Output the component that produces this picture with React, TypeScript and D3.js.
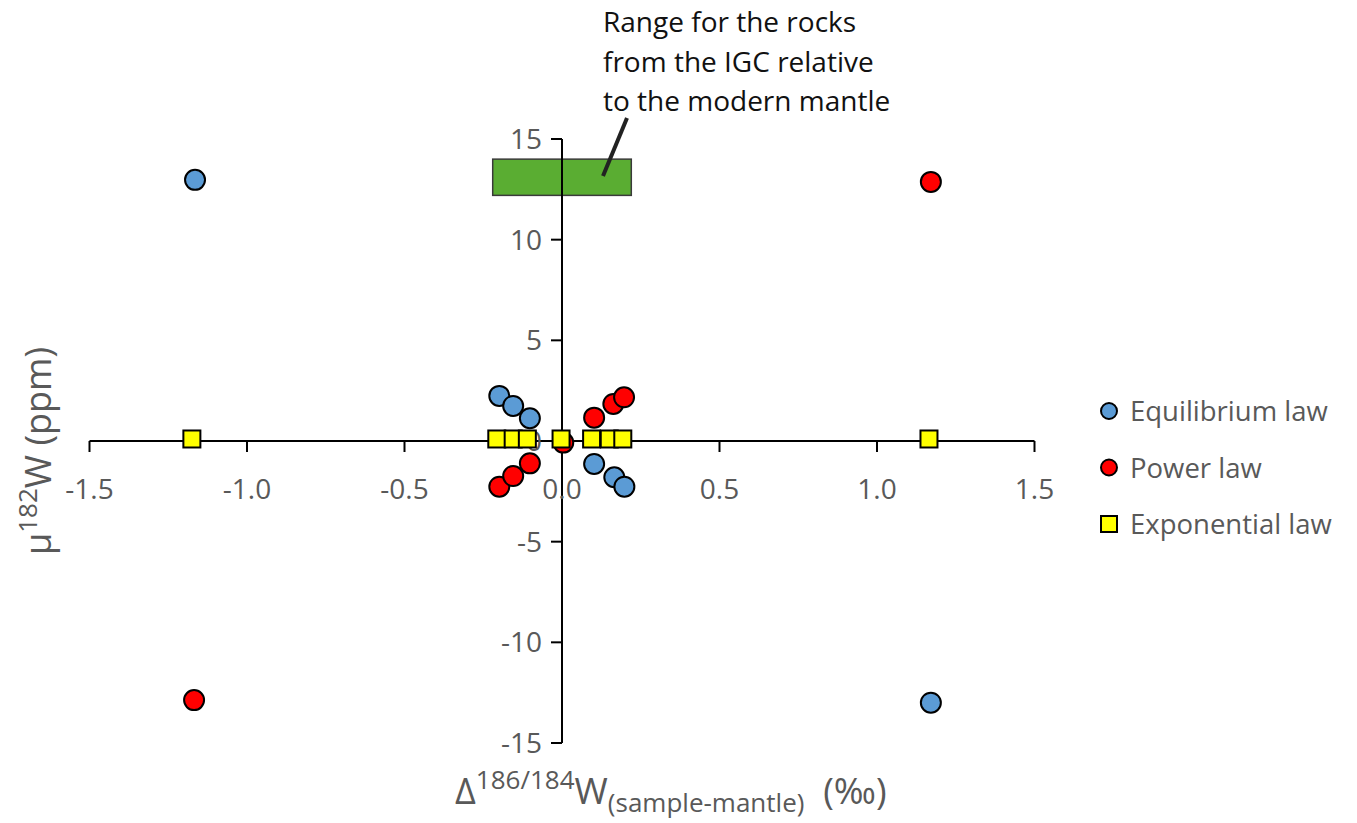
import React from "react";
import * as d3 from "d3";

const xTicks = [-1.5, -1.0, -0.5, 0.0, 0.5, 1.0, 1.5];
const yTicks = [-15, -10, -5, 5, 10, 15];
const yZeroLabel = "0";

const equilibriumX = [-1.165, -0.199, -0.155, -0.102, 0.102, 0.166, 0.198, 1.171];
const equilibriumY = [12.97, 2.24, 1.74, 1.13, -1.14, -1.8, -2.27, -13.0];
const powerX = [-1.168, -0.199, -0.155, -0.102, 0.004, 0.102, 0.163, 0.197, 1.171];
const powerY = [-12.87, -2.27, -1.74, -1.11, -0.08, 1.16, 1.84, 2.17, 12.87];
const exponentialX = [-1.175, -0.207, -0.155, -0.11, -0.003, 0.094, 0.15, 0.193, 1.165];
const exponentialY = [0.1, 0.1, 0.1, 0.1, 0.1, 0.1, 0.1, 0.1, 0.1];

const rangeX = [-0.22, 0.22];
const rangeY = [12.2, 14.0];

const annotationLines = ["Range for the rocks", "from the IGC relative", "to the modern mantle"];
const legendNames = ["Equilibrium law", "Power law", "Exponential law"];

const W = 1357;
const H = 823;
const FONT = "'Open Sans', sans-serif";
const GRAY = "#595959";

export default function App() {
  const x = d3.scaleLinear().domain([-1.5, 1.5]).range([89.5, 1034.5]);
  const y = d3.scaleLinear().domain([-15, 15]).range([743, 139]);
  const x0 = x(0);
  const y0 = y(0);
  const r = 10;
  const sq = 17;

  const blue = equilibriumX.map((v, i) => ({ x: v, y: equilibriumY[i] }));
  const red = powerX.map((v, i) => ({ x: v, y: powerY[i] }));
  const yellow = exponentialX.map((v, i) => ({ x: v, y: exponentialY[i] }));

  return (
    <svg width={W} height={H} style={{ position: "absolute", left: 0, top: 0 }} fontFamily={FONT}>
      <rect width={W} height={H} fill="#fff" />
      {/* range box */}
      <rect
        x={x(rangeX[0])}
        y={y(rangeY[1])}
        width={x(rangeX[1]) - x(rangeX[0])}
        height={y(rangeY[0]) - y(rangeY[1])}
        fill="#5aad32"
        stroke="#3a3a3a"
        strokeWidth={1.5}
      />
      {/* axes */}
      <line x1={x(-1.5)} x2={x(1.5)} y1={y0} y2={y0} stroke="#000" strokeWidth={2} />
      <line x1={x0} x2={x0} y1={y(15)} y2={y(-15)} stroke="#000" strokeWidth={2} />
      {[...yTicks, 0].map((t) => (
        <line key={"yt" + t} x1={x0 - 11} x2={x0} y1={y(t)} y2={y(t)} stroke="#000" strokeWidth={2} />
      ))}
      {xTicks.map((t) => (
        <line key={"xt" + t} x1={x(t)} x2={x(t)} y1={y0} y2={y0 + 11} stroke="#000" strokeWidth={2} />
      ))}
      {/* tick labels */}
      {xTicks.map((t) => (
        <text key={"xl" + t} x={x(t)} y={y0 + 58} textAnchor="middle" fontSize={28} fill={GRAY}>
          {t.toFixed(1)}
        </text>
      ))}
      {yTicks.map((t) => (
        <text key={"yl" + t} x={x0 - 20} y={y(t) + 10} textAnchor="end" fontSize={28} fill={GRAY}>
          {String(t)}
        </text>
      ))}
      <text x={x0 - 20} y={y0 + 10} textAnchor="end" fontSize={28} fill={GRAY}>
        {yZeroLabel}
      </text>
      {/* annotation */}
      <line x1={603} y1={176} x2={627} y2={118} stroke="#222" strokeWidth={4} />
      {annotationLines.map((s, i) => (
        <text key={s} x={603} y={32 + i * 39.5} fontSize={28} fill="#111">
          {s}
        </text>
      ))}
      {/* points */}
      {blue.map((d, i) => (
        <circle key={"b" + i} cx={x(d.x)} cy={y(d.y)} r={r} fill="#5b9bd5" stroke="#000" strokeWidth={2} />
      ))}
      {red.map((d, i) => (
        <circle key={"r" + i} cx={x(d.x)} cy={y(d.y)} r={r} fill="#ff0000" stroke="#000" strokeWidth={2} />
      ))}
      {yellow.map((d, i) => (
        <rect
          key={"y" + i}
          x={x(d.x) - sq / 2}
          y={y(d.y) - sq / 2}
          width={sq}
          height={sq}
          fill="#ffff00"
          stroke="#000"
          strokeWidth={2}
        />
      ))}
      {/* legend */}
      {legendNames.map((n, i) => {
        const cy = 411 + i * 56.5;
        return (
          <g key={n}>
            {i < 2 ? (
              <circle cx={1109} cy={cy} r={8} fill={i === 0 ? "#5b9bd5" : "#ff0000"} stroke="#000" strokeWidth={2} />
            ) : (
              <rect x={1101} y={cy - 8} width={16} height={16} fill="#ffff00" stroke="#000" strokeWidth={2} />
            )}
            <text x={1130} y={cy + 10} fontSize={27.5} fill={GRAY}>
              {n}
            </text>
          </g>
        );
      })}
      {/* axis titles */}
      <text
        transform={`translate(51, 451) rotate(-90)`}
        textAnchor="middle"
        fontSize={36}
        fill={GRAY}
      >
        μ<tspan dy={-14} fontSize={26}>182</tspan>
        <tspan dy={14}>W (ppm)</tspan>
      </text>
      <text x={455} y={804} fontSize={36} fill={GRAY}>
        Δ<tspan dy={-15} fontSize={26}>186/184</tspan>
        <tspan dy={15}>W</tspan>
        <tspan dy={8} fontSize={26}>(sample-mantle)</tspan>
        <tspan dy={-8} xmlSpace="preserve">{"  (‰)"}</tspan>
      </text>
    </svg>
  );
}
